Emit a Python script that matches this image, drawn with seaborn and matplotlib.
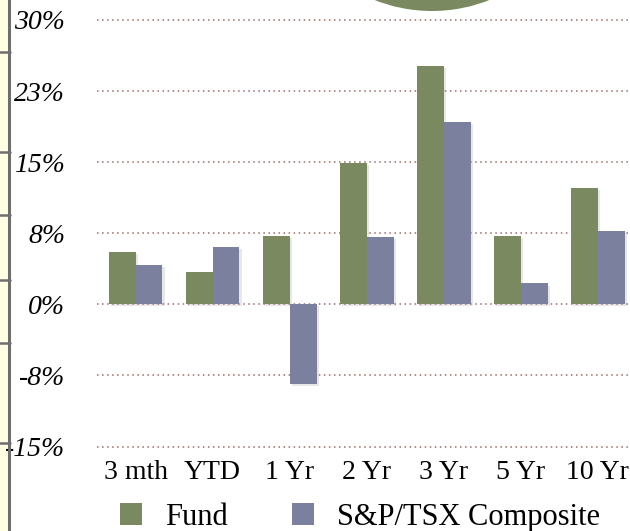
import matplotlib
matplotlib.use("Agg")
import matplotlib.pyplot as plt
import matplotlib.patheffects as pe
from matplotlib.patches import Rectangle, Ellipse
from matplotlib.lines import Line2D
import seaborn as sns
import pandas as pd

categories = ["3 mth", "YTD", "1 Yr", "2 Yr", "3 Yr", "5 Yr", "10 Yr"]
fund = [5.5, 3.4, 7.2, 14.9, 25.1, 7.2, 12.3]
index = [4.2, 6.1, -8.4, 7.1, 19.2, 2.2, 7.7]
series_names = ["Fund", "S&P/TSX Composite"]
ytick_values = [30, 22.5, 15, 7.5, 0, -7.5, -15]
ytick_labels = ["30%", "23%", "15%", "8%", "0%", "-8%", "-15%"]

df = pd.DataFrame({
    "period": categories * 2,
    "value": fund + index,
    "series": [series_names[0]] * len(fund) + [series_names[1]] * len(index),
})

sns.set_style("white")
plt.rcParams["font.family"] = ["Liberation Serif", "DejaVu Serif"]

W, H = 630, 531
fig = plt.figure(figsize=(W / 100, H / 100), dpi=100)
fig.patch.set_facecolor("white")

# decorative left strip
fig.add_artist(Rectangle((0, 0), 8.5 / W, 1, transform=fig.transFigure,
                         facecolor="#ffffe3", edgecolor="none", zorder=0))
fig.add_artist(Line2D([8.8 / W, 8.8 / W], [0, 1], transform=fig.transFigure,
                      color="#6e6e6e", lw=2.2, zorder=1))
for yp in [52, 152, 215, 280, 343, 443]:
    fig.add_artist(Line2D([0, 10 / W], [1 - yp / H, 1 - yp / H], transform=fig.transFigure,
                          color="#6e6e6e", lw=1.8, zorder=1))

# decorative green disc at top
fig.add_artist(Ellipse((432 / W, (H + 145) / H), 312 / W, 312 / H,
                       transform=fig.transFigure, facecolor="#7a895f",
                       edgecolor="none", zorder=1))

ax = fig.add_axes([97 / W, 1 - 457 / H, 1 - 97 / W, 457 / H])
ax.set_facecolor("none")

palette = {series_names[0]: "#7a895f", series_names[1]: "#7a809e"}
sns.barplot(data=df, x="period", y="value", hue="series", order=categories,
            hue_order=series_names, palette=palette, width=0.7, gap=0,
            saturation=1, ax=ax, zorder=3, legend=True)

handles, labels = ax.get_legend_handles_labels()
ax.get_legend().remove()

for p in ax.patches:
    p.set_edgecolor("none")
    p.set_path_effects([pe.SimplePatchShadow(offset=(1.5, -1.5), shadow_rgbFace="#888888", alpha=0.2),
                        pe.Normal()])

ax.set_ylim(-16.1, 32.1)
ax.set_xlim(-0.5, 6.42)
ax.set_yticks(ytick_values)
ax.set_yticklabels(ytick_labels, fontsize=20, fontstyle="italic", color="black")
ax.set_xticks(range(len(categories)))
ax.set_xticklabels(categories, fontsize=20, color="black")
ax.tick_params(axis="y", length=0, pad=23)
ax.tick_params(axis="x", length=0, pad=2)
ax.yaxis.grid(True, color="#9e6a6a", linestyle=(0, (1, 2.3)), linewidth=1.1, zorder=1)
ax.set_axisbelow(True)
ax.xaxis.grid(False)
for s in ax.spines.values():
    s.set_visible(False)
ax.set_xlabel("")
ax.set_ylabel("")

for h in handles:
    h.set_path_effects([])
    h.set_edgecolor("none")
fig.legend(handles, labels, loc="upper left", bbox_to_anchor=(120 / W, 1 - 503 / H),
           ncol=2, frameon=False, fontsize=22, handlelength=0.72, handleheight=0.72,
           handletextpad=0.75, columnspacing=2.1, borderpad=0, borderaxespad=0,
           labelcolor="black")

fig.savefig("out.png", dpi=100)
